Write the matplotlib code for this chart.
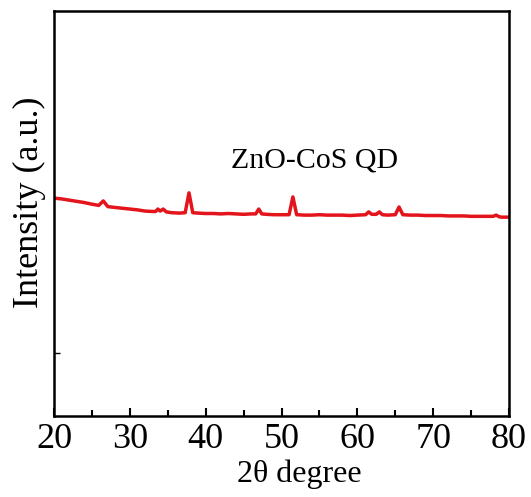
import matplotlib
matplotlib.use('Agg')
import matplotlib.pyplot as plt
from matplotlib.ticker import MultipleLocator

# XRD pattern of the ZnO-CoS quantum dots (2theta in degrees, intensity a.u.)
two_theta = [20.0, 21.0, 22.0, 23.0, 24.0, 25.0, 25.9, 26.5, 27.1, 28.0,
             29.0, 30.0, 31.0, 32.0, 33.0, 33.4, 33.7, 34.0, 34.4, 34.8,
             35.5, 36.5, 37.3, 37.8, 38.3, 39.0, 40.0, 41.0, 42.0, 43.0,
             44.0, 45.0, 46.0, 46.6, 47.0, 47.4, 48.0, 49.0, 50.0, 51.0,
             51.5, 52.0, 53.0, 54.0, 55.0, 56.0, 57.0, 58.0, 59.0, 60.0,
             61.1, 61.5, 61.9, 62.5, 62.9, 63.3, 64.0, 65.0, 65.5, 66.0,
             67.0, 68.0, 69.0, 70.0, 71.0, 72.0, 73.0, 74.0, 75.0, 76.0,
             77.0, 77.9, 78.3, 78.7, 79.0, 80.0]
intensity = [538, 536, 533, 530, 527, 523, 520, 531, 517, 515,
             513, 511, 509, 506, 505, 505, 511, 506, 511, 504,
             502, 501, 502, 551, 502, 501, 500, 500, 499, 500,
             499, 498, 499, 499, 511, 499, 498, 497, 497, 497,
             541, 497, 496, 496, 497, 496, 496, 496, 495, 496,
             497, 504, 498, 498, 504, 497, 496, 497, 516, 497,
             496, 496, 495, 495, 495, 494, 494, 494, 493, 493,
             493, 493, 496, 492, 491, 491]

x_ticks = [20, 30, 40, 50, 60, 70, 80]
sample_label = 'ZnO-CoS QD'

plt.rcParams['font.family'] = ['Liberation Serif', 'DejaVu Serif']

fig = plt.figure(figsize=(5.31, 4.97), dpi=100, facecolor='white')
ax = fig.add_axes([54 / 531, 81 / 497, 455 / 531, 405 / 497])

ax.plot(two_theta, intensity, color='#e3141b', linewidth=2.5, solid_joinstyle='round')

ax.set_xlim(20, 80)
ax.set_ylim(0, 1000)
ax.set_xticks(x_ticks)
ax.xaxis.set_minor_locator(MultipleLocator(5))
ax.set_yticks([155])
ax.set_yticklabels([''])

ax.tick_params(axis='both', which='major', direction='in', length=6, width=1.5,
               labelsize=26, pad=5)
ax.tick_params(axis='y', which='major', length=4, width=1.0)
ax.tick_params(axis='x', which='minor', direction='in', length=4, width=1.5)
for sp in ax.spines.values():
    sp.set_linewidth(1.8)

ax.set_xlabel('2θ degree', fontsize=23, va='center')
ax.xaxis.set_label_coords(0.54, -0.143)
ax.set_ylabel('Intensity (a.u.)', fontsize=26, va='center')
ax.yaxis.set_label_coords(-0.053, 0.528)

ax.text(54.4, 632, sample_label, fontsize=21.5, ha='center', va='center')

fig.savefig('out.png', dpi=100, facecolor='white')
